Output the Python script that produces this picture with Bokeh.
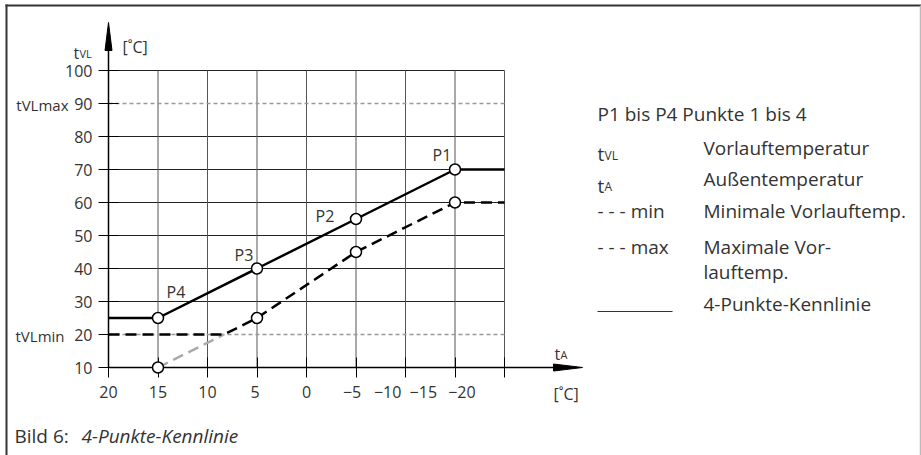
from bokeh.plotting import figure
from bokeh.models import Range1d, LinearAxis, FixedTicker
from bokeh.core.properties import value
from bokeh.embed import file_html
from bokeh.resources import INLINE

# ---------------- data ----------------
point_names = ["P1", "P2", "P3", "P4"]
t_outdoor = [-15, -5, 5, 15]          # grid position of P1..P4 on the outdoor-temperature axis
t_flow = [70, 55, 40, 25]             # 4-Punkte-Kennlinie (P1..P4)
t_flow_lower = [60, 45, 25, 10]       # lower (dashed) curve at the same positions
t_flow_min = 20                       # tVLmin
t_flow_max = 90                       # tVLmax
x_start, x_end = 20, -20
y_ticks = [10, 20, 30, 40, 50, 60, 70, 80, 90, 100]
y_grid = [30, 40, 50, 60, 70, 80, 100]
x_grid = [20, 15, 10, 5, 0, -5, -10, -15, -20]
x_tick_labels = ["20", "15", "10", "5", "0", "\u22125", "\u221210", "\u221215", "\u221220"]
x_tick_label_pos = [20, 15, 10, 5.2, 0, -4.6, -8.2, -11.8, -15.7]

legend_left = ["P1 bis P4 Punkte 1 bis 4", "", "", "- - - min", "- - - max", "", ""]
legend_right = ["", "Vorlauftemperatur", "Au\u00dfentemperatur", "Minimale Vorlauftemp.",
                "Maximale Vor-", "lauftemp.", "4-Punkte-Kennlinie"]

# ---------------- page geometry helpers (page px -> data) ----------------
PXX, PXY = 9.9, 3.3
def X(px):
    return 20 - (px - 108) / PXX
def Y(py):
    return 100 - (py - 70) / PXY

W, H = 921, 455
p = figure(width=W, height=H, output_backend="svg", toolbar_location=None,
           x_range=Range1d(X(0), X(W)), y_range=Range1d(Y(H), Y(0)),
           x_axis_type=None, y_axis_type=None, min_border=0)
p.outline_line_color = None
p.background_fill_color = "white"
p.border_fill_color = "white"

CH = value("Open Sans")
LG = value("Open Sans")

# outer frame
p.segment(x0=[X(5)], x1=[X(921)], y0=[Y(5)], y1=[Y(5)], line_color="#333", line_width=2)
p.segment(x0=[X(6)], x1=[X(6)], y0=[Y(4)], y1=[Y(455)], line_color="#333", line_width=2)
p.segment(x0=[X(920)], x1=[X(920)], y0=[Y(5)], y1=[Y(455)], line_color="#bbb", line_width=1.5)

# grid
p.segment(x0=x_start, x1=x_end, y0=y_grid, y1=y_grid, line_color="#222", line_width=1)
p.segment(x0=x_grid[1:], x1=x_grid[1:], y0=10, y1=100, line_color="#555", line_width=1)

# tVLmin / tVLmax dotted
p.segment(x0=x_start, x1=x_end, y0=[t_flow_min, t_flow_max], y1=[t_flow_min, t_flow_max],
          line_color="#999", line_width=1.5, line_dash="4 3")

# curves
pts_x = t_outdoor[::-1]
solid_y = t_flow[::-1]
low_y = t_flow_lower[::-1]
x_cross = pts_x[0] + (t_flow_min - low_y[0]) / (low_y[1] - low_y[0]) * (pts_x[1] - pts_x[0])

p.line([pts_x[0], x_cross], [low_y[0], t_flow_min], line_color="#aaa", line_width=2.5, line_dash="11 6")
p.line([x_start, x_cross] + pts_x[1:] + [x_end],
       [t_flow_min, t_flow_min] + low_y[1:] + [low_y[-1]],
       line_color="black", line_width=2.5, line_dash="11 6")
p.line([x_start] + pts_x + [x_end], [solid_y[0]] + solid_y + [solid_y[-1]],
       line_color="black", line_width=2.5)

# axes
yax = LinearAxis(fixed_location=x_start, bounds=(10, Y(40)), ticker=FixedTicker(ticks=y_ticks),
                 major_tick_in=10, major_tick_out=10, minor_tick_line_color=None,
                 axis_line_color="black", axis_line_width=1.5, major_tick_line_color="black",
                 major_label_text_font="Open Sans", major_label_text_font_size="16px",
                 major_label_text_color="#333", major_label_standoff=6)
p.add_layout(yax, "left")
xax = LinearAxis(fixed_location=10, bounds=(x_start, X(565)), ticker=FixedTicker(ticks=x_grid),
                 major_tick_in=10, major_tick_out=10, minor_tick_line_color=None,
                 axis_line_color="black", axis_line_width=1.5, major_tick_line_color="black",
                 major_label_text_font_size="0px", major_label_text_alpha=0)
p.add_layout(xax, "below")

# points drawn above the axes
p.scatter(t_outdoor + t_outdoor, t_flow + t_flow_lower, size=11,
          fill_color="white", line_color="black", line_width=1.5, level="overlay")

p.text(x=t_outdoor, y=t_flow, text=point_names, x_offset=[-13, -31, -13, 18],
       y_offset=[-15, -3, -14, -26], text_font=CH, text_font_size="16px",
       text_color="#333", text_align="center", text_baseline="middle")

# arrow heads
p.patch([x_start - 3.5 / PXX, x_start, x_start + 3.5 / PXX], [Y(50), Y(22), Y(50)], color="black")
p.patch([X(553), X(582), X(553)], [10 + 3.5 / PXY, 10, 10 - 3.5 / PXY], color="black")

# x tick labels
p.text(x=x_tick_label_pos, y=10, text=x_tick_labels, y_offset=24, text_font=CH,
       text_font_size="16px", text_color="#333", text_align="center", text_baseline="middle")

# axis titles
p.text(x=[X(73)], y=[Y(52)], text=["t"], text_font=CH, text_font_size="16px", text_color="#333",
       text_align="left", text_baseline="alphabetic")
p.text(x=[X(79)], y=[Y(53)], text=["VL"], text_font=CH, text_font_size="11px", text_color="#333",
       text_align="left", text_baseline="alphabetic")
p.text(x=[X(122), X(553)], y=[Y(46), Y(393)], text=["[\u02daC]", "[\u02daC]"], text_font=CH,
       text_font_size="16px", text_color="#333", text_align="left", text_baseline="middle")
p.text(x=[X(554)], y=[Y(353)], text=["t"], text_font=CH, text_font_size="16px", text_color="#333",
       text_align="left", text_baseline="alphabetic")
p.text(x=[X(560)], y=[Y(354)], text=["A"], text_font=CH, text_font_size="11px", text_color="#333",
       text_align="left", text_baseline="alphabetic")
p.text(x=[X(68), X(64)], y=[t_flow_max, t_flow_min], y_offset=[1, 1], text=["tVLmax", "tVLmin"],
       text_font=CH, text_font_size="15px", text_color="#333", text_align="right",
       text_baseline="middle")

# legend block
rows_py = [113, 147, 178, 210, 246, 271, 303]
p.text(x=X(597), y=[Y(v) for v in rows_py], text=legend_left, text_font=LG, text_font_size="19px",
       text_color="#333", text_align="left", text_baseline="middle")
p.text(x=X(703), y=[Y(v) for v in rows_py], text=legend_right, text_font=LG, text_font_size="19px",
       text_color="#333", text_align="left", text_baseline="middle")
p.text(x=[X(597), X(597)], y=[Y(153), Y(185)], text=["t", "t"], text_font=LG, text_font_size="19px",
       text_color="#333", text_align="left", text_baseline="alphabetic")
p.text(x=[X(604), X(604)], y=[Y(155), Y(186)], text=["VL", "A"], text_font=LG, text_font_size="12px",
       text_color="#333", text_align="left", text_baseline="alphabetic")
p.segment(x0=[X(597)], x1=[X(672)], y0=[Y(311)], y1=[Y(311)], line_color="#333", line_width=1)

# caption
p.text(x=[X(14)], y=[Y(435)], text=["Bild 6:"], text_font=LG, text_font_size="19px",
       text_color="#333", text_align="left", text_baseline="middle")
p.text(x=[X(81)], y=[Y(435)], text=["4-Punkte-Kennlinie"], text_font=LG, text_font_size="19px",
       text_font_style="italic", text_color="#333", text_align="left", text_baseline="middle")

open("out.html", "w").write(file_html(p, INLINE))
